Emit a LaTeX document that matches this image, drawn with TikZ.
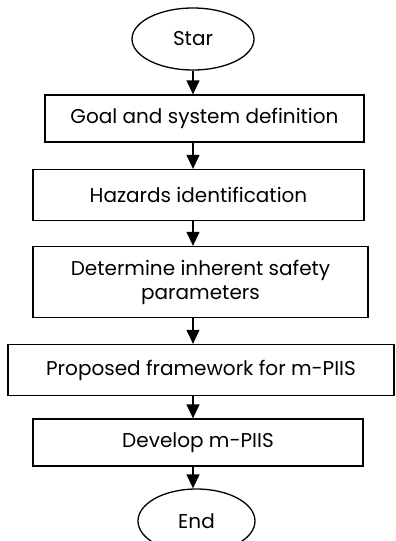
\documentclass[tikz,border=0pt]{standalone}
\usepackage{fontspec}
\setmainfont{Poppins}
\usetikzlibrary{shapes.geometric,arrows.meta}
\begin{document}
\begin{tikzpicture}[x=1pt,y=-1pt,font=\fontsize{20}{24}\selectfont]
        \useasboundingbox (0,0) rectangle (396,541);
        \begin{scope}[every node/.style={draw,line width=1.3pt,inner sep=0pt,align=center}]
          \node[ellipse,minimum width=122pt,minimum height=62pt] (star) at (193,39) {Star};
          \node[minimum width=319pt,minimum height=47pt] (goal) at (204.5,118.5) {Goal and system definition};
          \node[minimum width=331pt,minimum height=51pt] (hazard) at (198.5,195) {Hazards identification};
          \node[minimum width=335pt,minimum height=71pt] (param) at (200.5,282) {Determine inherent safety\\parameters};
          \node[minimum width=386pt,minimum height=51pt] (frame) at (201,370) {Proposed framework for m-PIIS};
          \node[minimum width=330pt,minimum height=47pt] (develop) at (198,442.5) {Develop m-PIIS};
          \node[ellipse,minimum width=117pt,minimum height=64pt] (end) at (196.5,521) {End};
        \end{scope}
        \begin{scope}[every edge/.style={draw=black,line width=1.3pt,-{Triangle[width=13pt,length=14pt]}}]
          \path (star) edge (star |- goal.north);
          \path (star |- goal.south) edge (star |- hazard.north);
          \path (star |- hazard.south) edge (star |- param.north);
          \path (star |- param.south) edge (star |- frame.north);
          \path (star |- frame.south) edge (star |- develop.north);
          \path (star |- develop.south) edge (star |- end.north);
        \end{scope}
\end{tikzpicture}
\end{document}
